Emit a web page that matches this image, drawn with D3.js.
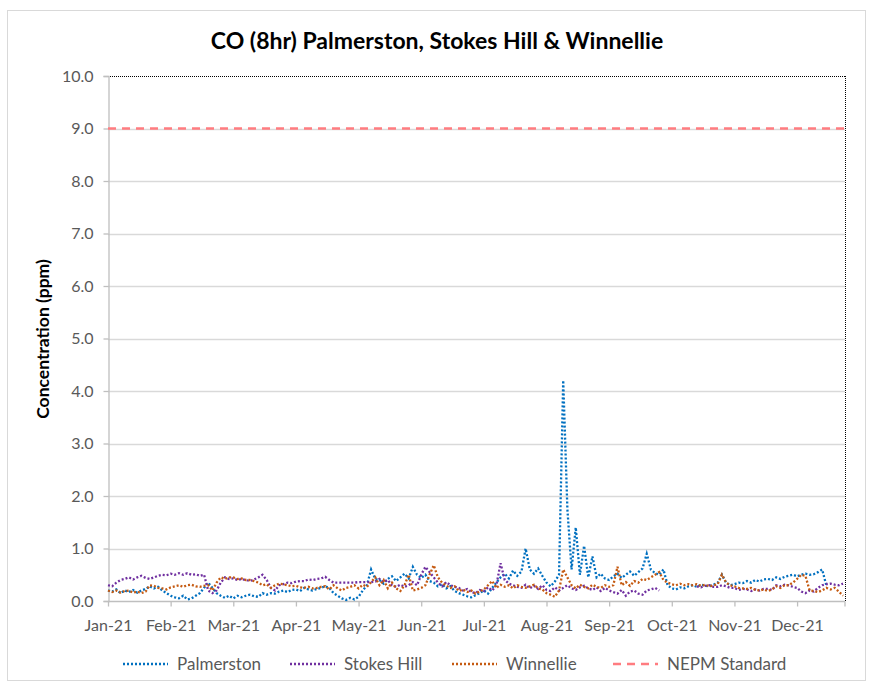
<!DOCTYPE html>
<html><head><meta charset="utf-8">
<script src="https://cdn.jsdelivr.net/npm/d3@7"></script>
<style>body{margin:0;background:#fff}svg{display:block}</style>
</head><body><svg id="c" width="874" height="685"></svg>
<script>
// ---------------- data ----------------
const months = ["Jan-21","Feb-21","Mar-21","Apr-21","May-21","Jun-21","Jul-21","Aug-21","Sep-21","Oct-21","Nov-21","Dec-21"];
const yTicks = [0,1,2,3,4,5,6,7,8,9,10];
const sampleStep = 1/15; // months between samples (~2 days)
const palmerston = [
0.2,0.18,0.22,0.15,0.2,0.17,0.21,0.16,0.2,0.23,
0.28,0.24,0.27,0.2,0.15,0.1,0.07,0.05,0.1,0.03,
0.05,0.1,0.15,0.25,0.35,0.25,0.15,0.1,0.06,0.1,
0.05,0.1,0.07,0.1,0.12,0.09,0.08,0.15,0.12,0.15,
0.14,0.18,0.2,0.17,0.21,0.22,0.19,0.25,0.22,0.2,
0.23,0.25,0.28,0.25,0.15,0.1,0.05,0.02,0.06,0.03,
0.08,0.2,0.3,0.6,0.42,0.4,0.33,0.42,0.47,0.38,
0.45,0.52,0.43,0.65,0.5,0.44,0.5,0.38,0.35,0.28,
0.32,0.24,0.28,0.19,0.15,0.12,0.09,0.07,0.11,0.15,
0.2,0.14,0.25,0.35,0.45,0.52,0.43,0.58,0.48,0.56,
1.0,0.6,0.52,0.62,0.48,0.35,0.28,0.37,0.5,4.2,
1.75,0.6,1.4,0.5,1.05,0.45,0.85,0.45,0.52,0.43,
0.4,0.47,0.52,0.44,0.5,0.56,0.48,0.55,0.62,0.9,
0.6,0.53,0.5,0.6,0.3,0.24,0.22,0.26,0.24,0.28,
0.3,0.27,0.31,0.29,0.28,0.31,0.35,0.5,0.35,0.3,
0.32,0.35,0.34,0.38,0.35,0.4,0.37,0.41,0.42,0.4,
0.45,0.42,0.46,0.48,0.5,0.47,0.5,0.52,0.5,0.51,
0.55,0.6,0.3,null,null,null,null];
const stokesHill = [
0.3,0.28,0.35,0.4,0.42,0.45,0.41,0.45,0.48,0.44,
0.42,0.45,0.48,0.5,0.49,0.52,0.5,0.53,0.5,0.53,
0.5,0.51,0.48,0.5,0.2,0.15,0.2,0.35,0.45,0.42,
0.43,0.4,0.42,0.4,0.38,0.41,0.45,0.5,0.4,0.25,
0.2,0.3,0.32,0.35,0.34,0.37,0.38,0.38,0.41,0.4,
0.42,0.43,0.46,0.4,0.35,0.35,0.35,0.35,0.35,0.35,
0.36,0.36,0.36,0.36,0.37,0.42,0.36,0.4,0.3,0.27,
0.31,0.27,0.3,0.36,0.3,0.5,0.65,0.55,0.45,0.35,
0.28,0.36,0.3,0.27,0.25,0.2,0.23,0.17,0.15,0.21,
0.19,0.26,0.2,0.3,0.72,0.4,0.33,0.3,0.27,0.25,
0.31,0.24,0.29,0.23,0.3,0.21,0.19,0.26,0.2,0.25,
0.3,0.24,0.21,0.26,0.29,0.24,0.21,0.26,0.19,0.25,
0.2,0.17,0.14,0.21,0.1,0.18,0.2,0.14,0.12,0.2,
0.22,0.25,0.2,null,null,null,null,null,null,null,
null,0.28,0.26,0.29,0.3,0.27,0.27,0.3,0.28,0.25,
0.25,0.21,0.23,0.22,0.19,0.22,0.2,0.23,0.23,0.21,
0.3,0.28,0.31,0.3,0.27,0.25,0.18,0.15,0.2,0.18,
0.25,0.3,0.32,0.33,0.31,0.3,0.33];
const winnellie = [
0.2,0.17,0.2,0.16,0.19,0.2,0.16,0.18,0.15,0.18,
0.3,0.29,0.25,0.24,0.22,0.26,0.28,0.3,0.27,0.3,
0.31,0.28,0.27,0.29,0.3,0.2,0.35,0.45,0.42,0.45,
0.45,0.42,0.43,0.4,0.4,0.38,0.35,0.3,0.32,0.25,
0.3,0.33,0.32,0.3,0.28,0.29,0.26,0.25,0.27,0.24,
0.25,0.27,0.28,0.22,0.3,0.24,0.2,0.25,0.27,0.3,
0.24,0.31,0.27,0.36,0.45,0.3,0.4,0.24,0.35,0.24,
0.19,0.3,0.5,0.2,0.22,0.25,0.3,0.5,0.68,0.45,
0.35,0.29,0.25,0.28,0.19,0.22,0.17,0.2,0.14,0.18,
0.22,0.3,0.38,0.25,0.31,0.27,0.3,0.24,0.3,0.27,
0.25,0.28,0.31,0.24,0.22,0.15,0.12,0.08,0.2,0.6,
0.45,0.3,0.24,0.31,0.27,0.24,0.31,0.27,0.25,0.3,
0.27,0.3,0.65,0.3,0.36,0.29,0.38,0.35,0.42,0.4,
0.45,0.5,0.55,0.4,0.35,0.32,0.3,0.33,0.3,0.32,
0.3,0.32,0.29,0.31,0.28,0.3,0.32,0.5,0.35,0.3,
0.28,0.25,0.24,0.23,0.25,0.21,0.2,0.22,0.19,0.22,
0.28,0.25,0.3,0.3,0.35,0.42,0.5,0.48,0.2,0.19,
0.17,0.2,0.25,0.22,0.25,0.18,0.1];
const nepmStandard = 9.0;
const seriesNames = ["Palmerston","Stokes Hill","Winnellie","NEPM Standard"];

// ---------------- chart ----------------
const svg = d3.select("#c");
const FONT = "Lato, 'Open Sans', sans-serif";
const L = 108, R = 845, T = 76, B = 601;
const x = d3.scaleLinear().domain([0, 11.765]).range([L, R]);
const y = d3.scaleLinear().domain([0, 10]).range([B, T]);

svg.append("rect").attr("x",7.5).attr("y",10.5).attr("width",858).attr("height",670)
  .attr("fill","#fff").attr("stroke","#d9d9d9").attr("stroke-width",1);

svg.append("text").attr("x",437).attr("y",49).attr("text-anchor","middle")
  .attr("font-family",FONT).attr("font-weight","bold").attr("font-size",23).attr("fill","#000")
  .text("CO (8hr) Palmerston, Stokes Hill & Winnellie");

// gridlines
svg.append("g").selectAll("line").data(yTicks.filter(d=>d>0 && d<10)).join("line")
  .attr("x1",L).attr("x2",R).attr("y1",d=>Math.round(y(d))+0.5).attr("y2",d=>Math.round(y(d))+0.5)
  .attr("stroke","#d9d9d9").attr("stroke-width",1.3);

// plot area border (dotted, top & right)
svg.append("line").attr("x1",L).attr("x2",R).attr("y1",T+0.5).attr("y2",T+0.5)
  .attr("stroke","#000").attr("stroke-width",1).attr("stroke-dasharray","1,1");
svg.append("line").attr("x1",R+0.5).attr("x2",R+0.5).attr("y1",T).attr("y2",B)
  .attr("stroke","#000").attr("stroke-width",1).attr("stroke-dasharray","1,1");

// axes
const yAxis = svg.append("g").attr("transform",`translate(${L+0.5},0)`)
  .call(d3.axisLeft(y).tickValues(yTicks).tickFormat(d3.format(".1f")).tickSize(5).tickPadding(10));
const xAxis = svg.append("g").attr("transform",`translate(0,${B+0.5})`)
  .call(d3.axisBottom(x).tickValues(d3.range(months.length)).tickFormat(i=>months[i]).tickSize(5).tickPadding(13));
xAxis.append("line").attr("x1",R).attr("x2",R).attr("y1",0).attr("y2",5).attr("stroke","#bfbfbf").attr("stroke-width",1.3);
[yAxis,xAxis].forEach(a=>{
  a.selectAll("path.domain").attr("stroke","#bfbfbf").attr("stroke-width",1.3);
  a.selectAll(".tick line").attr("stroke","#bfbfbf").attr("stroke-width",1.3);
  a.selectAll("text").attr("font-family",FONT).attr("font-size",16).attr("fill","#595959");
});
xAxis.select("path.domain").attr("d",`M${L},0H${R}`);

svg.append("text").attr("transform","translate(49,339) rotate(-90)").attr("text-anchor","middle")
  .attr("font-family",FONT).attr("font-weight","bold").attr("font-size",17.5).attr("fill","#000")
  .text("Concentration (ppm)");

// series
const colors = {"Palmerston":"#0070C0","Stokes Hill":"#7030A0","Winnellie":"#C55A11"};
const line = d3.line().defined(d=>d!=null).x((d,i)=>x(i*sampleStep)).y(d=>y(d));
const data = [["Palmerston",palmerston],["Stokes Hill",stokesHill],["Winnellie",winnellie]];
const g = svg.append("g");
data.forEach(([name,vals])=>{
  g.append("path").datum(vals).attr("d",line).attr("fill","none")
    .attr("stroke",colors[name]).attr("stroke-width",2.3).attr("stroke-dasharray","2,2");
});
svg.append("line").attr("x1",L).attr("x2",R).attr("y1",y(nepmStandard)).attr("y2",y(nepmStandard))
  .attr("stroke","#FF7C80").attr("stroke-width",2.5).attr("stroke-dasharray","8,6");

// legend
const legX = [123, 290, 452, 613];
const lg = svg.append("g");
seriesNames.forEach((n,i)=>{
  const ln = lg.append("line").attr("x1",legX[i]).attr("x2",legX[i]+45).attr("y1",664).attr("y2",664);
  if (i<3) ln.attr("stroke",colors[n]).attr("stroke-width",2.3).attr("stroke-dasharray","2,2");
  else ln.attr("stroke","#FF7C80").attr("stroke-width",2.5).attr("stroke-dasharray","8,6");
  lg.append("text").attr("x",legX[i]+54).attr("y",664).attr("dy","0.35em")
    .attr("font-family",FONT).attr("font-size",17).attr("fill","#595959").text(n);
});
</script></body></html>
